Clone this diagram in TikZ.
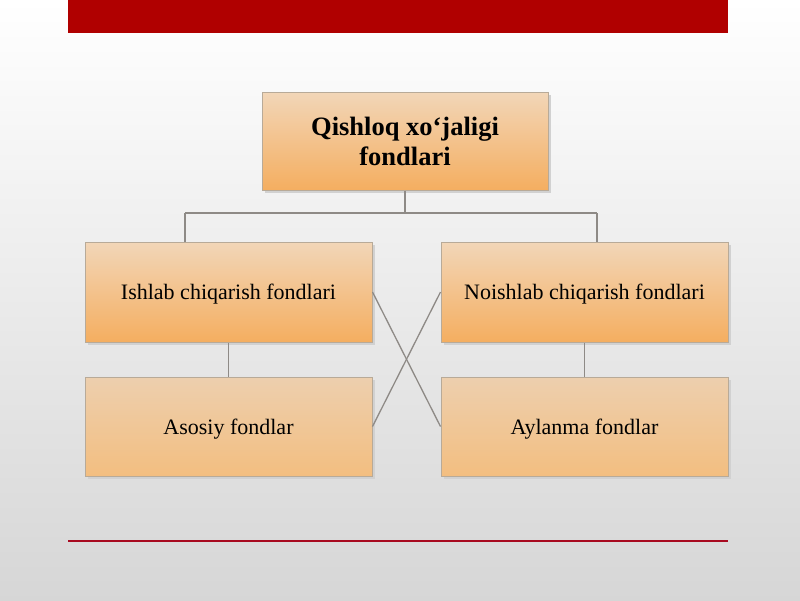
\documentclass[tikz,border=0pt]{standalone}
\usepackage{fontspec}
\setmainfont{Liberation Serif}
\begin{document}
\begin{tikzpicture}[x=1pt,y=-1pt,
  box/.style={draw=boxline, line width=1pt, top color=boxtop, bottom color=boxbot, minimum width=287pt, minimum height=100pt, inner sep=0pt, text depth=0pt, font=\fontsize{22}{26}\selectfont, align=center},
  lowbox/.style={box, top color=lowtop, bottom color=lowbot},
  link/.style={draw=linkgray, line width=1.3pt}]
\definecolor{boxline}{HTML}{B8AA98}
\definecolor{boxtop}{HTML}{F2D6B8}
\definecolor{boxbot}{HTML}{F4AE60}
\definecolor{lowtop}{HTML}{EDCFAE}
\definecolor{lowbot}{HTML}{F3BE80}
\definecolor{linkgray}{HTML}{8E8A86}
\definecolor{barred}{HTML}{B00000}
\definecolor{linered}{HTML}{A80A20}
\useasboundingbox (0,0) rectangle (800,600);
\shade[top color=white, bottom color=black!16] (0,0) rectangle (800,600);
\fill[barred] (68,0) rectangle (728,33);
\draw[linered, line width=2pt] (68,541) -- (728,541);
% shadows
\foreach \x/\y/\w/\h in {262/92/286/98, 85/242/287/100, 441/242/287/100, 85/377/287/99, 441/377/287/99}
  \fill[black!18] (\x+3,\y+3) rectangle (\x+\w+3,\y+\h+3);
\node[box, minimum width=286pt, minimum height=98pt, font=\fontsize{26.5}{30}\selectfont\bfseries] (top) at (405,141) {Qishloq xo‘jaligi\\fondlari};
\node[box] (ish) at (228.5,292) {Ishlab chiqarish fondlari};
\node[box] (noi) at (584.5,292) {Noishlab chiqarish fondlari};
\node[lowbox, minimum height=99pt] (aso) at (228.5,426.5) {Asosiy fondlar};
\node[lowbox, minimum height=99pt] (ayl) at (584.5,426.5) {Aylanma fondlar};
\coordinate (j) at (405,213);
\coordinate (jl) at (185,213);
\coordinate (jr) at (597,213);
\draw[link] (top.south) -- (j);
\draw[link] (jl) -- (jr);
\draw[link] (jl) -- (jl |- ish.north);
\draw[link] (jr) -- (jr |- noi.north);
\draw[link] (ish.south) -- (aso.north);
\draw[link] (noi.south) -- (ayl.north);
\draw[link] (ish.east) -- (ayl.west);
\draw[link] (noi.west) -- (aso.east);
\end{tikzpicture}
\end{document}
